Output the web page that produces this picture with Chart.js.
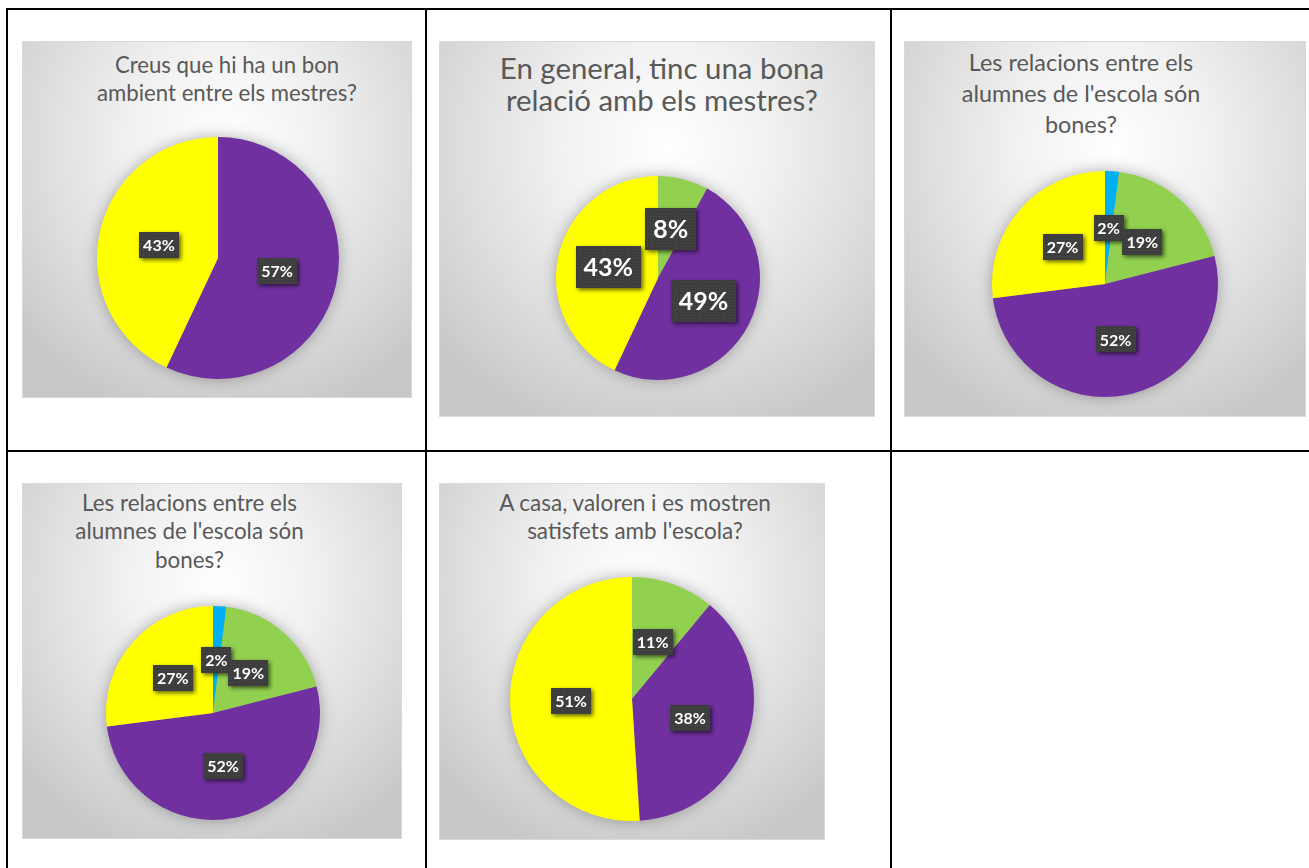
<!DOCTYPE html>
<html lang="ca">
<head>
<meta charset="utf-8">
<title>Enquesta - gràfics de pastís</title>
<script src="https://cdn.jsdelivr.net/npm/chart.js@4.4.1/dist/chart.umd.min.js"></script>
<style>
    body { margin: 0; width: 1309px; height: 868px; background: #ffffff; position: relative; overflow: hidden; font-family: Lato, "Open Sans", sans-serif; }
    .linia { position: absolute; background: #000000; }
    .panell { position: absolute; box-sizing: border-box; border: 1px solid #d9d9d9;
        background: radial-gradient(ellipse 70% 80% at 52% 28%, #ffffff 0%, #f1f1f1 35%, #d9d9d9 75%, #c8c8c8 100%); }
    .titol { position: absolute; width: 420px; text-align: center; color: #595959; white-space: nowrap; }
    .pastis { position: absolute; }
</style>
</head>
<body>
<script>
    // Colors de les categories (paleta estandard d'Excel)
    var COLOR_BLAU = "#00B0F0";
    var COLOR_VERD = "#92D050";
    var COLOR_LILA = "#7030A0";
    var COLOR_GROC = "#FFFF00";

    // Grafic 1
    var TITOL_1 = ["Creus que hi ha un bon", "ambient entre els mestres?"];
    var CATEGORIES_1 = ["Lila", "Groc"];
    var VALORS_1 = [57, 43];

    // Grafic 2
    var TITOL_2 = ["En general, tinc una bona", "relació amb els mestres?"];
    var CATEGORIES_2 = ["Verd", "Lila", "Groc"];
    var VALORS_2 = [8, 49, 43];

    // Grafic 3
    var TITOL_3 = ["Les relacions entre els", "alumnes de l'escola són", "bones?"];
    var CATEGORIES_3 = ["Blau", "Verd", "Lila", "Groc"];
    var VALORS_3 = [2, 19, 52, 27];

    // Grafic 4 (repetit)
    var TITOL_4 = ["Les relacions entre els", "alumnes de l'escola són", "bones?"];
    var CATEGORIES_4 = ["Blau", "Verd", "Lila", "Groc"];
    var VALORS_4 = [2, 19, 52, 27];

    // Grafic 5
    var TITOL_5 = ["A casa, valoren i es mostren", "satisfets amb l'escola?"];
    var CATEGORIES_5 = ["Verd", "Lila", "Groc"];
    var VALORS_5 = [11, 38, 51];

    var COLOR_PER_CATEGORIA = { Blau: COLOR_BLAU, Verd: COLOR_VERD, Lila: COLOR_LILA, Groc: COLOR_GROC };

    // Posicio de cada quadre dins la taula (panell, titol i pastis)
    var PANELLS = [
        { titol: TITOL_1, cats: CATEGORIES_1, vals: VALORS_1, x: 22, y: 41, w: 390, h: 357,
          tx: 227, ty: 65, mida: 22.2, lh: 28, cx: 217.5, cy: 257.5, r: 121, et: 16, etAlt: 26, etPad: 4 },
        { titol: TITOL_2, cats: CATEGORIES_2, vals: VALORS_2, x: 439, y: 41, w: 436, h: 376,
          tx: 662, ty: 68, mida: 29.4, lh: 31.5, cx: 658, cy: 278, r: 102, et: 25, etAlt: 42, etPad: 8 },
        { titol: TITOL_3, cats: CATEGORIES_3, vals: VALORS_3, x: 904, y: 41, w: 402, h: 376,
          tx: 1081, ty: 62, mida: 23.4, lh: 31, cx: 1105, cy: 284, r: 113, et: 16, etAlt: 26, etPad: 4 },
        { titol: TITOL_4, cats: CATEGORIES_4, vals: VALORS_4, x: 22, y: 483, w: 380, h: 356,
          tx: 189.5, ty: 503, mida: 22.4, lh: 28.5, cx: 212.5, cy: 713, r: 107, et: 16, etAlt: 26, etPad: 4 },
        { titol: TITOL_5, cats: CATEGORIES_5, vals: VALORS_5, x: 439, y: 483, w: 386, h: 357,
          tx: 635, ty: 503, mida: 22.5, lh: 28, cx: 632, cy: 699, r: 122, et: 16, etAlt: 26, etPad: 4 }
    ];

    var MARGE = 18;

    // Linies de la taula: [x, y, amplada, alcada]
    var LINIES = [
        [6, 8, 2, 860], [425, 8, 2, 860], [890, 8, 2, 860],
        [6, 8, 1303, 2], [6, 450, 1303, 2]
    ];

    function patroEtiqueta(ctx) {
        var c = document.createElement("canvas");
        c.width = 3; c.height = 3;
        var g = c.getContext("2d");
        g.fillStyle = "#3d3d3d";
        g.fillRect(0, 0, 3, 3);
        g.fillStyle = "#4b4b4b";
        g.fillRect(1, 1, 1, 1);
        return ctx.createPattern(c, "repeat");
    }

    /** Ombra suau al voltant del pastis, com a l'estil d'Excel. */
    var pluginOmbra = {
        id: "ombra",
        beforeDatasetsDraw: function (chart) {
            var arc = chart.getDatasetMeta(0).data[0];
            if (!arc) { return; }
            var ctx = chart.ctx;
            ctx.save();
            ctx.shadowColor = "rgba(0,0,0,0.35)";
            ctx.shadowBlur = 16;
            ctx.fillStyle = "#9a9a9a";
            ctx.beginPath();
            ctx.arc(arc.x, arc.y, arc.outerRadius - 1, 0, Math.PI * 2);
            ctx.fill();
            ctx.restore();
        }
    };

    /** Etiquetes de percentatge en caixes fosques al centre de cada porcio. */
    var pluginEtiquetes = {
        id: "etiquetes",
        afterDatasetsDraw: function (chart, args, opts) {
            var ctx = chart.ctx;
            var meta = chart.getDatasetMeta(0);
            var dades = chart.data.datasets[0].data;
            var patro = patroEtiqueta(ctx);
            ctx.save();
            ctx.font = "bold " + opts.mida + "px Lato, sans-serif";
            ctx.textAlign = "center";
            ctx.textBaseline = "middle";
            meta.data.forEach(function (arc, i) {
                var c = arc.getCenterPoint();
                var text = dades[i] + "%";
                var w = Math.round(ctx.measureText(text).width + 2 * opts.pad);
                var h = opts.alt;
                ctx.save();
                ctx.shadowColor = "rgba(0,0,0,0.6)";
                ctx.shadowBlur = 4;
                ctx.shadowOffsetX = 2;
                ctx.shadowOffsetY = 2;
                ctx.fillStyle = patro;
                ctx.fillRect(Math.round(c.x - w / 2), Math.round(c.y - h / 2), w, h);
                ctx.restore();
                ctx.fillStyle = "#ffffff";
                ctx.fillText(text, c.x, c.y + 1);
            });
            ctx.restore();
        }
    };

    function crearPanell(p) {
        var panell = document.createElement("div");
        panell.className = "panell";
        panell.style.left = p.x + "px";
        panell.style.top = p.y + "px";
        panell.style.width = p.w + "px";
        panell.style.height = p.h + "px";
        document.body.appendChild(panell);

        var titol = document.createElement("div");
        titol.className = "titol";
        titol.style.left = (p.tx - 210) + "px";
        titol.style.top = (p.ty - p.lh / 2) + "px";
        titol.style.fontSize = p.mida + "px";
        titol.style.lineHeight = p.lh + "px";
        p.titol.forEach(function (linia, i) {
            if (i > 0) { titol.appendChild(document.createElement("br")); }
            titol.appendChild(document.createTextNode(linia));
        });
        document.body.appendChild(titol);

        var mida = 2 * (p.r + MARGE);
        var caixa = document.createElement("div");
        caixa.className = "pastis";
        caixa.style.left = (p.cx - p.r - MARGE) + "px";
        caixa.style.top = (p.cy - p.r - MARGE) + "px";
        var canvas = document.createElement("canvas");
        canvas.width = mida;
        canvas.height = mida;
        caixa.appendChild(canvas);
        document.body.appendChild(caixa);

        new Chart(canvas.getContext("2d"), {
            type: "pie",
            data: {
                labels: p.cats,
                datasets: [{
                    data: p.vals,
                    backgroundColor: p.cats.map(function (c) { return COLOR_PER_CATEGORIA[c]; }),
                    borderWidth: 0
                }]
            },
            options: {
                responsive: false,
                animation: false,
                layout: { padding: MARGE },
                plugins: {
                    legend: { display: false },
                    tooltip: { enabled: false },
                    etiquetes: { mida: p.et, alt: p.etAlt, pad: p.etPad }
                }
            },
            plugins: [pluginOmbra, pluginEtiquetes]
        });
    }

    LINIES.forEach(function (l) {
        var d = document.createElement("div");
        d.className = "linia";
        d.style.left = l[0] + "px";
        d.style.top = l[1] + "px";
        d.style.width = l[2] + "px";
        d.style.height = l[3] + "px";
        document.body.appendChild(d);
    });

    PANELLS.forEach(crearPanell);
</script>
</body>
</html>
